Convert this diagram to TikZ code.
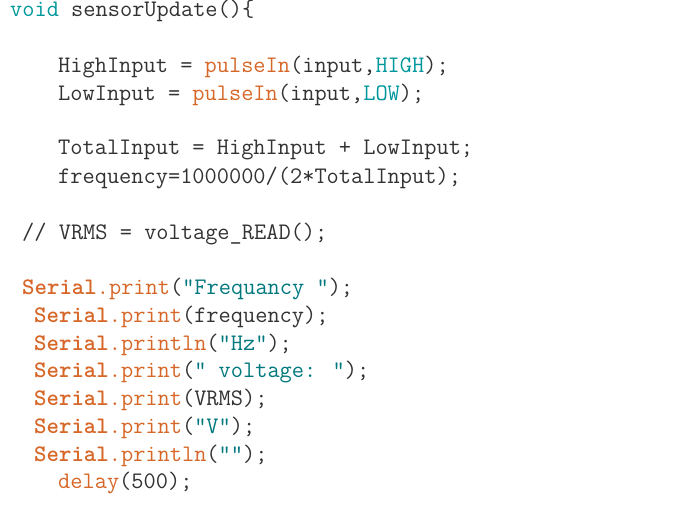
\documentclass[tikz,border=0pt]{standalone}
\usepackage{fontspec}
\definecolor{kw}{RGB}{0,151,156}
\definecolor{fn}{RGB}{214,103,40}
\definecolor{txt}{RGB}{50,50,50}
\definecolor{str}{RGB}{0,120,125}
\newcommand{\K}[1]{\textcolor{kw}{#1}}
\newcommand{\F}[1]{\textcolor{fn}{#1}}
\newcommand{\SB}{\textcolor{fn}{\bfseries Serial}}
\newcommand{\ST}[1]{\textcolor{str}{#1}}
\begin{document}
\begin{tikzpicture}[x=1pt,y=-1pt,
  code/.style={anchor=west,inner sep=0pt,text=txt,font=\ttfamily\fontsize{23.7}{27}\selectfont}]
\useasboundingbox (0,0) rectangle (680,511);
\node[code] (l1) at (10,11) {\K{void} sensorUpdate()\{};
\node[code] (l2) at (58,67) {HighInput = \F{pulseIn}(input,\K{HIGH});};
\node[code] (l3) at (58,95) {LowInput = \F{pulseIn}(input,\K{LOW});};
\node[code] (l4) at (58,150) {TotalInput = HighInput + LowInput;};
\node[code] (l5) at (58,178) {frequency=1000000/(2*TotalInput);};
\node[code] (l6) at (22,234) {// VRMS = voltage\_READ();};
\node[code] (l7) at (22,289) {\SB\F{.print}(\ST{"Frequancy "});};
\node[code] (l8) at (34,317) {\SB\F{.print}(frequency);};
\node[code] (l9) at (34,345) {\SB\F{.println}(\ST{"Hz"});};
\node[code] (l10) at (34,372) {\SB\F{.print}(\ST{" voltage: "});};
\node[code] (l11) at (34,400) {\SB\F{.print}(VRMS);};
\node[code] (l12) at (34,428) {\SB\F{.print}(\ST{"V"});};
\node[code] (l13) at (34,456) {\SB\F{.println}(\ST{""});};
\node[code] (l14) at (58,483) {\F{delay}(500);};
\end{tikzpicture}
\end{document}
